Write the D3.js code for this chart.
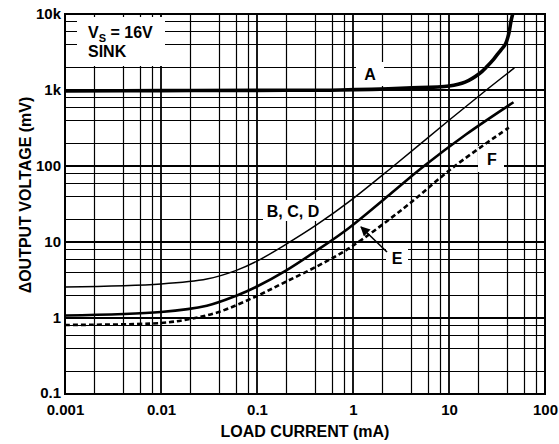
<!DOCTYPE html>
<html>
<head>
<meta charset="utf-8">
<script src="https://cdn.jsdelivr.net/npm/d3@7"></script>
<style>
  body { margin: 0; background: #fff; }
  text { font-family: "Liberation Sans", Arial, sans-serif; font-weight: bold; fill: #000; }
</style>
</head>
<body>
<div id="chart"></div>
<script>
// axis ticks
var xTicks = [0.001, 0.01, 0.1, 1, 10, 100];
var xTickLabels = ["0.001", "0.01", "0.1", "1", "10", "100"];
var yTicks = [0.1, 1, 10, 100, 1000, 10000];
var yTickLabels = ["0.1", "1", "10", "100", "1k", "10k"];
var minorSteps = [2, 4, 6, 8];

// curve A (thick)
var loadA = [0.001, 0.01, 0.1, 0.74, 3.6, 10, 14.7, 20.8, 25, 28.5, 31.6, 35, 38.6, 41.8, 44.2, 46.5];
var voltA = [970, 980, 990, 1000, 1060, 1130, 1270, 1650, 2050, 2450, 2900, 3400, 4000, 5400, 8000, 10500];
// curve B, C, D (thin)
var loadB = [0.001, 0.01, 0.03, 0.06, 0.1, 0.2, 0.424, 0.94, 2.65, 10, 24.5, 48];
var voltB = [2.55, 2.8, 3.25, 4.2, 5.6, 9.3, 17, 35, 100, 400, 1000, 1950];
// curve E (thick)
var loadE = [0.001, 0.01, 0.03, 0.06, 0.1, 0.2, 0.424, 0.9, 2.4, 5.5, 15, 47];
var voltE = [1.08, 1.2, 1.45, 1.95, 2.6, 4.2, 7.8, 15.2, 42, 100, 260, 690];
// curve F (dashed)
var loadF = [0.001, 0.01, 0.02, 0.04, 0.1, 0.2, 0.424, 0.94, 3.4, 11.5, 42];
var voltF = [0.81, 0.86, 0.97, 1.2, 1.95, 3.0, 4.8, 8.5, 28, 100, 320];

var W = 559, H = 444;
var margin = {top: 14, right: 14, bottom: 50, left: 65};

var svg = d3.select("#chart").append("svg")
	.attr("width", W)
	.attr("height", H);

var x = d3.scaleLog().domain([0.001, 100]).range([margin.left, W - margin.right]);
var y = d3.scaleLog().domain([0.1, 10000]).range([H - margin.bottom, margin.top]);

//minor grid values
function minors(decades) {
	var out = [];
	decades.slice(0, -1).forEach(function(d) {
		minorSteps.forEach(function(m) { out.push(d * m); });
	});
	return out;
}

var grid = svg.append("g").attr("class", "grid");

grid.selectAll(".vminor")
	.data(minors(xTicks))
	.enter().append("line")
	.attr("x1", function(d) { return Math.round(x(d)) + 0.5; })
	.attr("x2", function(d) { return Math.round(x(d)) + 0.5; })
	.attr("y1", y(0.1)).attr("y2", y(10000))
	.attr("stroke", "#000").attr("stroke-width", 1.2);

grid.selectAll(".hminor")
	.data(minors(yTicks))
	.enter().append("line")
	.attr("y1", function(d) { return Math.round(y(d)) + 0.5; })
	.attr("y2", function(d) { return Math.round(y(d)) + 0.5; })
	.attr("x1", x(0.001)).attr("x2", x(100))
	.attr("stroke", "#000").attr("stroke-width", 1.2);

grid.selectAll(".vmajor")
	.data(xTicks)
	.enter().append("line")
	.attr("x1", function(d) { return x(d); })
	.attr("x2", function(d) { return x(d); })
	.attr("y1", y(0.1)).attr("y2", y(10000))
	.attr("stroke", "#000").attr("stroke-width", 1.8);

grid.selectAll(".hmajor")
	.data(yTicks)
	.enter().append("line")
	.attr("y1", function(d) { return y(d); })
	.attr("y2", function(d) { return y(d); })
	.attr("x1", x(0.001)).attr("x2", x(100))
	.attr("stroke", "#000").attr("stroke-width", 1.8);

// white boxes for the annotations (cover gridlines)
var boxes = [
	[77, 17, 88, 49],
	[356, 62, 28, 24],
	[263, 200, 61, 21],
	[478, 146, 26, 26],
	[386, 247, 22, 22]
];
svg.selectAll(".box")
	.data(boxes)
	.enter().append("rect")
	.attr("x", function(d) { return d[0]; })
	.attr("y", function(d) { return d[1]; })
	.attr("width", function(d) { return d[2]; })
	.attr("height", function(d) { return d[3]; })
	.attr("fill", "#fff");

// frame
svg.append("rect")
	.attr("x", x(0.001)).attr("y", y(10000))
	.attr("width", x(100) - x(0.001))
	.attr("height", y(0.1) - y(10000))
	.attr("fill", "none").attr("stroke", "#000").attr("stroke-width", 2);

// axes
var xAxis = d3.axisBottom(x).tickValues(xTicks).tickSize(0).tickPadding(10)
	.tickFormat(function(d, i) { return xTickLabels[i]; });
var yAxis = d3.axisLeft(y).tickValues(yTicks).tickSize(0).tickPadding(4)
	.tickFormat(function(d, i) { return yTickLabels[i]; });

svg.append("g").attr("transform", "translate(0," + y(0.1) + ")").call(xAxis)
	.call(function(g) { g.select(".domain").remove(); })
	.selectAll("text").attr("font-size", "15px").attr("font-family", null);
svg.append("g").attr("transform", "translate(" + x(0.001) + ",0)").call(yAxis)
	.call(function(g) { g.select(".domain").remove(); })
	.selectAll("text").attr("font-size", "15px").attr("font-family", null)
	.attr("dy", function(d) { return d === 0.1 ? "0.2em" : "0.32em"; });

// curves
svg.append("clipPath").attr("id", "plotclip").append("rect")
	.attr("x", x(0.001)).attr("y", y(10000))
	.attr("width", x(100) - x(0.001))
	.attr("height", y(0.1) - y(10000));

var line = d3.line()
	.x(function(d) { return x(d[0]); })
	.y(function(d) { return y(d[1]); })
	.curve(d3.curveCatmullRom.alpha(0.5));

function drawCurve(loads, volts, width, dash) {
	var pts = d3.zip(loads, volts);
	svg.append("path")
		.attr("clip-path", "url(#plotclip)")
		.attr("d", line(pts))
		.attr("fill", "none")
		.attr("stroke", "#000")
		.attr("stroke-width", width)
		.attr("stroke-dasharray", dash || null);
}

drawCurve(loadB, voltB, 1.5);
drawCurve(loadF, voltF, 2.6, "5,3");
drawCurve(loadE, voltE, 2.6);
drawCurve(loadA, voltA, 3.6);

// arrow for E
svg.append("defs").append("marker")
	.attr("id", "arrow")
	.attr("viewBox", "0 0 10 10")
	.attr("refX", 9).attr("refY", 5)
	.attr("markerWidth", 6).attr("markerHeight", 6)
	.attr("orient", "auto")
	.append("path").attr("d", "M0,0 L10,5 L0,10 z").attr("fill", "#000");

svg.append("line")
	.attr("x1", 387).attr("y1", 252)
	.attr("x2", 361).attr("y2", 227)
	.attr("stroke", "#000").attr("stroke-width", 1.6)
	.attr("marker-end", "url(#arrow)");

// labels
function label(tx, ty, s) {
	return svg.append("text").attr("x", tx).attr("y", ty)
		.attr("font-size", "16px").attr("text-anchor", "middle").text(s);
}
label(370, 80, "A");
label(293, 217, "B, C, D");
label(492, 165, "F");
label(397, 264, "E");

var vs = svg.append("text").attr("x", 88).attr("y", 38).attr("font-size", "16px");
vs.append("tspan").text("V");
vs.append("tspan").attr("font-size", "11px").attr("dy", 4).text("S");
vs.append("tspan").attr("dy", -4).text(" = 16V");
svg.append("text").attr("x", 88).attr("y", 57).attr("font-size", "16px").text("SINK");

// axis titles
svg.append("text")
	.attr("x", (x(0.001) + x(100)) / 2).attr("y", 437)
	.attr("text-anchor", "middle").attr("font-size", "16px")
	.text("LOAD CURRENT (mA)");

svg.append("text")
	.attr("transform", "translate(31,195) rotate(-90)")
	.attr("text-anchor", "middle").attr("font-size", "16px")
	.text("\u0394OUTPUT VOLTAGE (mV)");
</script>
</body>
</html>
